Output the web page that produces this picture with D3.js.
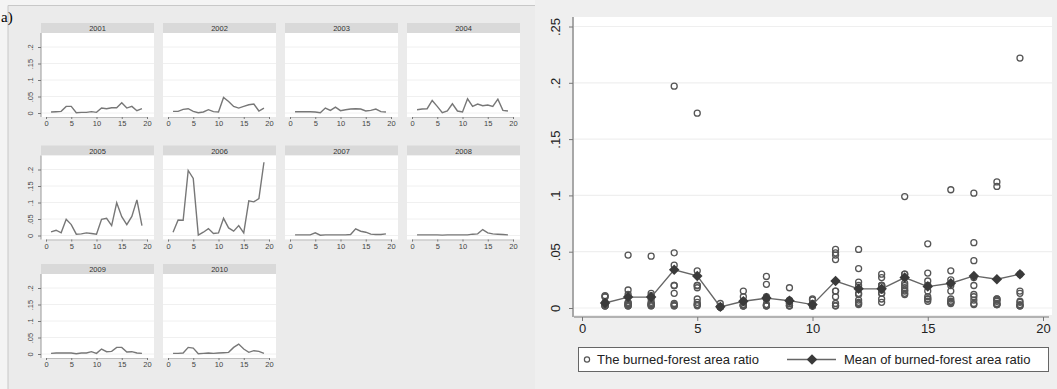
<!DOCTYPE html>
<html>
<head>
<meta charset="utf-8">
<script src="https://cdn.jsdelivr.net/npm/d3@7"></script>
<style>
body { margin: 0; background: #f4f4f4; }
text { font-family: "Liberation Sans", Arial, sans-serif; }
</style>
</head>
<body>
<script>
const w = 1057; // width
const h = 389; // height

// regions 1..19
const regions = d3.range(1, 20);
const years = ["2001", "2002", "2003", "2004", "2005", "2006", "2007", "2008", "2009", "2010"];

// burned-forest area ratio per region, one array per year
const r2001 = [0.003, 0.004, 0.005, 0.020, 0.020, 0.001, 0.002, 0.002, 0.004, 0.002, 0.015, 0.013, 0.016, 0.016, 0.031, 0.015, 0.020, 0.007, 0.013];
const r2002 = [0.005, 0.005, 0.011, 0.013, 0.005, 0.001, 0.003, 0.010, 0.004, 0.003, 0.047, 0.035, 0.020, 0.015, 0.020, 0.025, 0.027, 0.006, 0.015];
const r2003 = [0.004, 0.004, 0.004, 0.004, 0.003, 0.001, 0.015, 0.008, 0.018, 0.007, 0.010, 0.012, 0.013, 0.012, 0.006, 0.008, 0.012, 0.004, 0.003];
const r2004 = [0.010, 0.012, 0.013, 0.038, 0.020, 0.001, 0.006, 0.028, 0.006, 0.003, 0.043, 0.020, 0.027, 0.022, 0.024, 0.020, 0.042, 0.008, 0.006];
const r2005 = [0.011, 0.016, 0.008, 0.049, 0.033, 0.004, 0.005, 0.008, 0.006, 0.004, 0.049, 0.052, 0.030, 0.099, 0.057, 0.033, 0.058, 0.108, 0.030];
const r2006 = [0.010, 0.047, 0.046, 0.197, 0.173, 0.001, 0.010, 0.021, 0.006, 0.008, 0.052, 0.023, 0.013, 0.030, 0.008, 0.105, 0.102, 0.112, 0.222];
const r2007 = [0.002, 0.002, 0.002, 0.002, 0.008, 0.001, 0.002, 0.002, 0.002, 0.002, 0.002, 0.003, 0.020, 0.013, 0.010, 0.004, 0.003, 0.003, 0.005];
const r2008 = [0.002, 0.002, 0.002, 0.002, 0.002, 0.001, 0.002, 0.002, 0.002, 0.002, 0.002, 0.004, 0.005, 0.018, 0.008, 0.005, 0.004, 0.003, 0.002];
const r2009 = [0.002, 0.003, 0.003, 0.003, 0.003, 0.001, 0.003, 0.003, 0.007, 0.002, 0.015, 0.007, 0.008, 0.020, 0.020, 0.006, 0.007, 0.003, 0.002];
const r2010 = [0.002, 0.002, 0.003, 0.020, 0.018, 0.001, 0.002, 0.003, 0.002, 0.003, 0.004, 0.005, 0.020, 0.030, 0.015, 0.005, 0.010, 0.008, 0.002];
const byYear = [r2001, r2002, r2003, r2004, r2005, r2006, r2007, r2008, r2009, r2010];

// mean over years per region
const meanRatio = [0.0044, 0.0097, 0.0097, 0.034, 0.0285, 0.001, 0.006, 0.0088, 0.0065, 0.003, 0.024, 0.017, 0.017, 0.027, 0.019, 0.022, 0.0285, 0.0256, 0.030];

const xTicks = [0, 5, 10, 15, 20];
const ySmallTicks = [0, 0.05, 0.1, 0.15, 0.2];
const yBigTicks = [0, 0.05, 0.1, 0.15, 0.2, 0.25];
const fmt = (v) => v === 0 ? "0" : d3.format(".2~f")(v).replace(/^0/, "");

let svg = d3.select("body")
    .append("svg")
    .attr('width', w)
    .attr('height', h);

drawLeft();
drawRight();

function drawLeft() {
    // panel background and frame
    svg.append("rect")
        .attr("x", 8).attr("y", 5)
        .attr("width", 527).attr("height", h - 5)
        .attr("fill", "#ebebeb");
    svg.append("path")
        .attr("d", `M8,${h} V5.5 H535`)
        .attr("fill", "none")
        .attr("stroke", "#c8c8c8");

    svg.append("text")
        .attr("x", 1).attr("y", 22)
        .style("font-family", "'Liberation Serif', 'Times New Roman', serif")
        .style("font-size", "15px")
        .text("a)");

    const colX = [41, 163, 285, 407];
    const rowY = [23, 145.5, 264];
    const pw = 113;

    years.forEach((yr, i) => {
        const cx = colX[i % 4];
        const ty = rowY[Math.floor(i / 4)];
        const g = svg.append("g");

        let x = d3.scaleLinear().domain([0, 20]).range([cx + 5, cx + 106]);
        let y = d3.scaleLinear().domain([0, 0.2]).range([ty + 90, ty + 24]);

        // header strip
        g.append("rect")
            .attr("x", cx).attr("y", ty)
            .attr("width", pw).attr("height", 10)
            .attr("fill", "#d9d9d9");
        g.append("text")
            .attr("x", cx + pw / 2).attr("y", ty + 8)
            .attr("text-anchor", "middle")
            .style("font-size", "7.5px")
            .attr("fill", "#333")
            .text(yr);

        // plot region
        g.append("rect")
            .attr("x", cx).attr("y", ty + 10)
            .attr("width", pw).attr("height", 84)
            .attr("fill", "#fff");

        g.selectAll(".grid")
            .data(ySmallTicks)
            .enter()
            .append("line")
            .attr("x1", cx).attr("x2", cx + pw)
            .attr("y1", (d) => y(d)).attr("y2", (d) => y(d))
            .attr("stroke", "#f0f0f0");

        // x axis
        let axisX = d3.axisBottom(x).tickValues(xTicks).tickSize(2).tickPadding(2);
        let gX = g.append("g")
            .attr("transform", `translate(0,${ty + 94})`)
            .call(axisX);
        gX.select(".domain").attr("stroke", "#bbb");
        gX.selectAll(".tick line").attr("stroke", "#777");
        gX.selectAll("text").style("font-size", "7.5px").attr("fill", "#444");

        // y axis only on first column
        if (i % 4 === 0) {
            let axisY = d3.axisLeft(y).tickValues(ySmallTicks).tickFormat(fmt).tickSize(3).tickPadding(2);
            let gY = g.append("g")
                .attr("transform", `translate(${cx},0)`)
                .call(axisY);
            gY.select(".domain").attr("stroke", "#999").attr("d", `M0,${ty + 10}V${ty + 94}`);
            gY.selectAll(".tick line").attr("stroke", "#777");
            gY.selectAll("text")
                .style("font-size", "7.5px")
                .attr("fill", "#444")
                .attr("text-anchor", "middle")
                .attr("transform", "rotate(-90)")
                .attr("x", 0)
                .attr("y", -8)
                .attr("dy", "0");
        }

        let line = d3.line()
            .x((d, k) => x(regions[k]))
            .y((d) => y(d));
        g.append("path")
            .datum(byYear[i])
            .attr("d", line)
            .attr("fill", "none")
            .attr("stroke", "#777")
            .attr("stroke-width", 1.4);
    });
}

function drawRight() {
    svg.append("rect")
        .attr("x", 535).attr("y", 0)
        .attr("width", w - 535).attr("height", h)
        .attr("fill", "#efefef");

    let x = d3.scaleLinear().domain([0, 20]).range([582, 1043]);
    let y = d3.scaleLinear().domain([0, 0.25]).range([308, 26.5]);

    svg.append("rect")
        .attr("x", 574).attr("y", 17)
        .attr("width", 478).attr("height", 298)
        .attr("fill", "#fff");

    svg.selectAll(".bgrid")
        .data(yBigTicks)
        .enter()
        .append("line")
        .attr("x1", 574).attr("x2", 1052)
        .attr("y1", (d) => y(d)).attr("y2", (d) => y(d))
        .attr("stroke", "#efefef")
        .attr("stroke-width", 1.2);

    // axes
    let axisX = d3.axisBottom(x).tickValues(xTicks).tickSize(4).tickPadding(3);
    let gX = svg.append("g")
        .attr('transform', `translate(0,317)`)
        .call(axisX);
    gX.select(".domain").attr("d", "M574,0H1049").attr("stroke", "#777").attr("stroke-width", 1.2);
    gX.selectAll(".tick line").attr("stroke", "#777");
    gX.selectAll("text").style("font-size", "13px").attr("fill", "#222");

    let axisY = d3.axisLeft(y).tickValues(yBigTicks).tickFormat(fmt).tickSize(4).tickPadding(3);
    let gY = svg.append("g")
        .attr('transform', `translate(573,0)`)
        .call(axisY);
    gY.select(".domain").attr("d", "M0,17V317").attr("stroke", "#777").attr("stroke-width", 1.2);
    gY.selectAll(".tick line").attr("stroke", "#777");
    gY.selectAll("text")
        .style("font-size", "13px")
        .attr("fill", "#222")
        .attr("text-anchor", "middle")
        .attr("transform", "rotate(-90)")
        .attr("x", 0)
        .attr("y", -13)
        .attr("dy", "0");

    // scatter of all years
    let points = [];
    byYear.forEach((arr) => arr.forEach((v, k) => points.push({ region: regions[k], ratio: v })));
    svg.selectAll(".pt")
        .data(points)
        .enter()
        .append("circle")
        .attr("cx", (d) => x(d.region))
        .attr("cy", (d) => y(d.ratio))
        .attr("r", 3)
        .attr("fill", "none")
        .attr("stroke", "#555")
        .attr("stroke-width", 1.3);

    // mean line
    let line = d3.line()
        .x((d, k) => x(regions[k]))
        .y((d) => y(d));
    svg.append("path")
        .datum(meanRatio)
        .attr("d", line)
        .attr("fill", "none")
        .attr("stroke", "#666")
        .attr("stroke-width", 1.4);

    const diamond = d3.symbol().type(d3.symbolDiamond2).size(70);
    svg.selectAll(".mn")
        .data(meanRatio)
        .enter()
        .append("path")
        .attr("d", diamond)
        .attr("transform", (d, k) => `translate(${x(regions[k])},${y(d)})`)
        .attr("fill", "#3a3a3a");

    // legend
    svg.append("rect")
        .attr("x", 578.5).attr("y", 347.5)
        .attr("width", 470).attr("height", 24)
        .attr("fill", "#fff")
        .attr("stroke", "#666");
    svg.append("circle")
        .attr("cx", 587).attr("cy", 359.5).attr("r", 2.6)
        .attr("fill", "none").attr("stroke", "#555").attr("stroke-width", 1.2);
    svg.append("text")
        .attr("x", 597).attr("y", 364)
        .style("font-size", "13px")
        .attr("fill", "#222")
        .text("The burned-forest area ratio");
    svg.append("line")
        .attr("x1", 787).attr("x2", 836)
        .attr("y1", 359.5).attr("y2", 359.5)
        .attr("stroke", "#666").attr("stroke-width", 1.4);
    svg.append("path")
        .attr("d", diamond)
        .attr("transform", "translate(812,359.5)")
        .attr("fill", "#3a3a3a");
    svg.append("text")
        .attr("x", 844).attr("y", 364)
        .style("font-size", "13px")
        .attr("fill", "#222")
        .text("Mean of burned-forest area ratio");
}
</script>
</body>
</html>
